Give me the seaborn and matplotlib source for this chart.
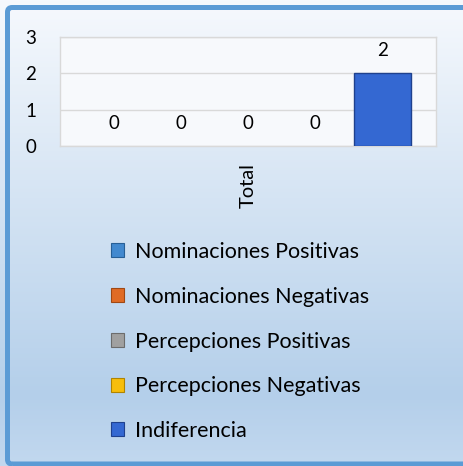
import numpy as np
import pandas as pd
import matplotlib
matplotlib.use("Agg")
import matplotlib.pyplot as plt
import seaborn as sns
from matplotlib.patches import Patch, FancyBboxPatch
from matplotlib.colors import LinearSegmentedColormap

# ========== DATOS ==========
categorias = ["Total"]
series = ["Nominaciones Positivas", "Nominaciones Negativas",
          "Percepciones Positivas", "Percepciones Negativas", "Indiferencia"]
valores = [0, 0, 0, 0, 2]
colores = ["#4289cf", "#e06b25", "#a0a0a0", "#f7be0c", "#3468d2"]
bordes = ["#275f96", "#a04813", "#6c6c6c", "#b08400", "#1f418e"]
ticks_y = [0, 1, 2, 3]

df = pd.DataFrame({
    "categoria": categorias * len(series),
    "serie": series,
    "valor": valores,
})

sns.set_style("white")
plt.rcParams["font.family"] = ["Lato", "DejaVu Sans"]
plt.rcParams["text.color"] = "black"
plt.rcParams["xtick.color"] = "black"
plt.rcParams["ytick.color"] = "black"

fig = plt.figure(figsize=(4.63, 4.66), dpi=100)
W, H = 463, 466

# ========== FONDO CON DEGRADADO ==========
bg = fig.add_axes([0, 0, 1, 1], zorder=-10)
cmap = LinearSegmentedColormap.from_list(
    "fondo", [(0, "#f6f9fd"), (0.85, "#b4cfea"), (1, "#c2d8ef")])
grad = np.linspace(0, 1, 256).reshape(-1, 1)
bg.imshow(grad, aspect="auto", cmap=cmap, extent=[0, 1, 0, 1], origin="upper")
bg.set_xlim(0, 1)
bg.set_ylim(0, 1)
bg.axis("off")

marco = FancyBboxPatch((7.5 / W, 2 / H), 1.05, 1 - 9.5 / H,
                       boxstyle="round,pad=0,rounding_size=0.01",
                       transform=fig.transFigure, fill=False,
                       edgecolor="#5b9bd5", linewidth=3.6, zorder=5)
bg.add_patch(marco)

# ========== GRAFICO ==========
ax = fig.add_axes([60 / W, 1 - 146 / H, 376 / W, 109 / H])
ax.set_facecolor("#f7f9fc")
sns.barplot(data=df, x="categoria", y="valor", hue="serie",
            palette=colores, saturation=1, width=0.893, gap=0.16, ax=ax,
            legend=False, edgecolor="#1f418e", linewidth=1, zorder=3)

# barras en cero sin borde
for p in ax.patches:
    if p.get_height() == 0:
        p.set_linewidth(0)

for cont in ax.containers:
    ax.bar_label(cont, fontsize=13.5, padding=10, color="black")

ax.set_xlim(-0.5, 0.5)
ax.set_ylim(0, 3)
ax.set_yticks(ticks_y)
ax.grid(axis="y", color="#d9d9d9", linewidth=1, zorder=0)
ax.tick_params(axis="y", length=0, pad=17, labelsize=13.5)
ax.tick_params(axis="x", length=0, pad=12, labelsize=14.5, rotation=90)
ax.set_xlabel("")
ax.set_ylabel("")
for s in ax.spines.values():
    s.set_color("#d9d9d9")
    s.set_linewidth(1)

# ========== LEYENDA ==========
handles = [Patch(facecolor=c, edgecolor=b, linewidth=0.8)
           for c, b in zip(colores, bordes)]
fig.legend(handles, series, loc="upper left",
           bbox_to_anchor=(111 / W, 1 - 242 / H), frameon=False,
           fontsize=15.5, handlelength=0.62, handleheight=0.62,
           handletextpad=0.5, labelspacing=1.15, borderaxespad=0,
           borderpad=0, labelcolor="black")

plt.savefig("out.png", dpi=100)
plt.close()
